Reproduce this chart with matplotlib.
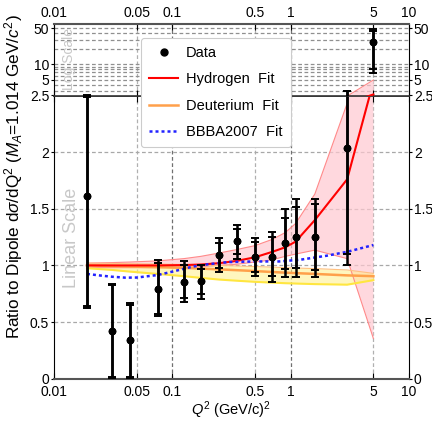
import matplotlib

matplotlib.use("Agg")
import matplotlib.pyplot as plt
from matplotlib.lines import Line2D
from matplotlib.ticker import NullLocator

plt.rcParams["font.family"] = ["Liberation Sans", "DejaVu Sans"]
plt.rcParams["mathtext.fontset"] = "custom"
plt.rcParams["mathtext.rm"] = "Liberation Sans"
plt.rcParams["mathtext.it"] = "Liberation Sans:italic"
plt.rcParams["font.size"] = 10

# data points: Q^2, ratio, stat (inner) and total (outer) error-bar ends
q2 = [0.019, 0.031, 0.044, 0.075, 0.125, 0.174, 0.25, 0.35, 0.5, 0.7, 0.9, 1.1, 1.6, 3.0, 5.0]
ratio = [1.61, 0.424, 0.341, 0.795, 0.855, 0.86, 1.09, 1.213, 1.071, 1.071, 1.195, 1.252, 1.248, 2.035, 27.2]
inner_lo = [0.645, 0.012, 0.012, 0.575, 0.71, 0.748, 0.98, 1.098, 0.945, 0.905, 0.966, 0.974, 0.959, 1.10, 8.2]
inner_hi = [2.49, 0.83, 0.655, 1.02, 1.0, 0.972, 1.2, 1.324, 1.204, 1.253, 1.416, 1.518, 1.542, 3.05, 45.0]
outer_lo = [0.62, 0.008, 0.008, 0.55, 0.68, 0.703, 0.942, 1.059, 0.905, 0.853, 0.90, 0.895, 0.895, 1.005, 6.9]
outer_hi = [2.51, 0.84, 0.665, 1.05, 1.035, 1.0, 1.24, 1.36, 1.239, 1.292, 1.495, 1.583, 1.583, 3.1, 47.8]

# fits evaluated at the data Q^2
fit_q2 = q2
h_fit = [1.0, 1.0, 1.0, 1.0, 1.003, 1.008, 1.02, 1.04, 1.072, 1.12, 1.16, 1.21, 1.40, 1.76, 2.62]
h_hi = [1.02, 1.025, 1.03, 1.04, 1.06, 1.08, 1.11, 1.14, 1.175, 1.23, 1.29, 1.37, 1.63, 2.43, 5.0]
h_lo = [0.98, 0.98, 0.98, 0.98, 0.985, 0.99, 1.0, 1.01, 1.03, 1.05, 1.08, 1.10, 1.135, 1.06, 0.355]
d_fit = [1.0, 0.995, 0.99, 0.985, 0.978, 0.972, 0.965, 0.958, 0.95, 0.942, 0.936, 0.932, 0.925, 0.912, 0.905]
d_hi = [1.02, 1.018, 1.015, 1.012, 1.008, 1.004, 1.0, 0.995, 0.99, 0.985, 0.98, 0.977, 0.972, 0.96, 0.93]
d_lo = [0.975, 0.96, 0.945, 0.925, 0.905, 0.89, 0.875, 0.865, 0.855, 0.848, 0.843, 0.84, 0.835, 0.83, 0.87]

bb_q2 = [0.019, 0.025, 0.031, 0.04, 0.05, 0.075, 0.1, 0.15, 0.2, 0.3, 0.5, 0.8, 1.2, 2.0, 3.0, 5.0]
bb_fit = [0.925, 0.91, 0.9, 0.892, 0.893, 0.915, 0.945, 0.99, 1.01, 1.03, 1.035, 1.035, 1.05, 1.085, 1.12, 1.18]

x_ticks = [0.01, 0.05, 0.1, 0.5, 1, 5, 10]
x_labels = ["0.01", "0.05", "0.1", "0.5", "1", "5", "10"]

RED = "#ff0000"
ORANGE = "#ffa04a"
BLUE = "#2222ff"


def draw(ax):
    for xv in [0.05, 0.5, 5]:
        ax.axvline(xv, color="#b0b0b0", ls=(0, (3, 2)), lw=0.9, zorder=0)
    for xv in [0.1, 1]:
        ax.axvline(xv, color="#707070", ls=(0, (3, 2)), lw=0.9, zorder=0)

    ax.fill_between(fit_q2, h_lo, h_hi, color="#ffc8d0", alpha=0.7, lw=0, zorder=1)
    ax.plot(fit_q2, h_hi, color="#ff8a8a", lw=0.8, zorder=2)
    ax.plot(fit_q2, h_lo, color="#ff8a8a", lw=0.8, zorder=2)
    ax.fill_between(fit_q2, d_lo, d_hi, color="#fff08a", alpha=0.55, lw=0, zorder=1)
    ax.plot(fit_q2, d_hi, color="#ffc080", lw=0.8, zorder=2)
    ax.plot(fit_q2, d_lo, color="#ffe640", lw=1.5, zorder=2)

    ax.plot(fit_q2, d_fit, color=ORANGE, lw=1.8, zorder=3)
    ax.plot(fit_q2, h_fit, color=RED, lw=1.5, zorder=3)
    ax.plot(bb_q2, bb_fit, color=BLUE, lw=1.8, ls=(0, (1.2, 1.2)), zorder=4)

    for lo, hi in [(outer_lo, outer_hi), (inner_lo, inner_hi)]:
        err = [[r - l for r, l in zip(ratio, lo)], [h - r for r, h in zip(ratio, hi)]]
        ax.errorbar(q2, ratio, yerr=err, fmt="o", color="black", ms=4.5,
                    elinewidth=1.8, capsize=3, capthick=1.4, zorder=5)

    ax.set_xscale("log")
    ax.set_xlim(0.01, 10)
    ax.set_xticks(x_ticks)
    ax.set_xticklabels(x_labels)
    ax.xaxis.set_minor_locator(NullLocator())
    ax.tick_params(axis="x", direction="in", length=4, top=True, bottom=True)
    ax.tick_params(axis="y", direction="out", length=2.5, left=True, right=True,
                   labelleft=True, labelright=True, pad=1)


fig = plt.figure(figsize=(4.32, 4.24), dpi=100)
left, width = 54 / 432, 355 / 432
ax = fig.add_axes([left, 45.3 / 424, width, 283.2 / 424])
ax_top = fig.add_axes([left, 328.5 / 424, width, 71.1 / 424])

draw(ax)
ax.set_ylim(0, 2.5)
ax.set_yticks([0, 0.5, 1, 1.5, 2])
ax.set_yticklabels(["0", "0.5", "1", "1.5", "2"])
for yv in [0.5, 1, 1.5, 2]:
    ax.axhline(yv, color="#a8a8a8", ls=(0, (3, 2)), lw=0.9, zorder=0)
ax.tick_params(axis="x", labeltop=False, labelbottom=True, pad=4.5)
ax.spines["bottom"].set_color("#555555")
ax.spines["bottom"].set_linewidth(1.5)
ax.spines["top"].set_color("#333333")
ax.spines["top"].set_linewidth(1.2)
ax.text(72 / 432, 1 - 238 / 424, "Linear Scale", transform=fig.transFigure, rotation=90,
        ha="center", va="center", color="#c8c8c8", fontsize=13, zorder=0.5)

draw(ax_top)
ax_top.set_yscale("log")
ax_top.set_ylim(2.5, 60)
ax_top.set_yticks([2.5, 5, 10, 50])
ax_top.set_yticklabels(["2.5", "5", "10", "50"])
ax_top.yaxis.set_minor_locator(NullLocator())
for yv in [3, 4, 5, 6, 7, 8, 9, 10, 20, 30, 40, 50]:
    ax_top.axhline(yv, color="#909090", ls=(0, (3, 2)), lw=0.9, zorder=0)
ax_top.tick_params(axis="x", labeltop=True, labelbottom=False, pad=3)
ax_top.spines["top"].set_color("#555555")
ax_top.spines["top"].set_linewidth(1.5)
ax_top.spines["bottom"].set_color("#333333")
ax_top.spines["bottom"].set_linewidth(1.2)
ax_top.text(69 / 432, 1 - 59 / 424, "Log Scale", transform=fig.transFigure, rotation=90,
            ha="center", va="center", color="#c8c8c8", fontsize=10, zorder=0.5)

fig.text(14 / 432, 1 - 177 / 424,
         r"Ratio to Dipole d$\sigma$/dQ$^2$ ($M_A$=1.014 GeV/$c^2$)",
         rotation=90, ha="center", va="center", fontsize=12.3)
fig.text(231 / 432, 1 - 410 / 424, r"$Q^2$ (GeV/c)$^2$", ha="center", va="center",
         fontsize=10.5)

handles = [
    Line2D([], [], marker="o", ls="none", color="black", ms=5),
    Line2D([], [], color=RED, lw=1.5),
    Line2D([], [], color=ORANGE, lw=1.8),
    Line2D([], [], color=BLUE, lw=1.8, ls=(0, (1.2, 1.2))),
]
labels = ["Data", "Hydrogen  Fit", "Deuterium  Fit", "BBBA2007  Fit"]
leg = fig.legend(handles, labels, loc="upper left", bbox_to_anchor=(141 / 432, 1 - 38 / 424),
                 borderaxespad=0, frameon=True, fancybox=True, framealpha=1,
                 edgecolor="#cccccc", handlelength=2.0, handletextpad=0.55,
                 labelspacing=0.85, borderpad=0.55, fontsize=10.5)
leg.get_frame().set_linewidth(0.8)

fig.savefig("out.png", dpi=100)
